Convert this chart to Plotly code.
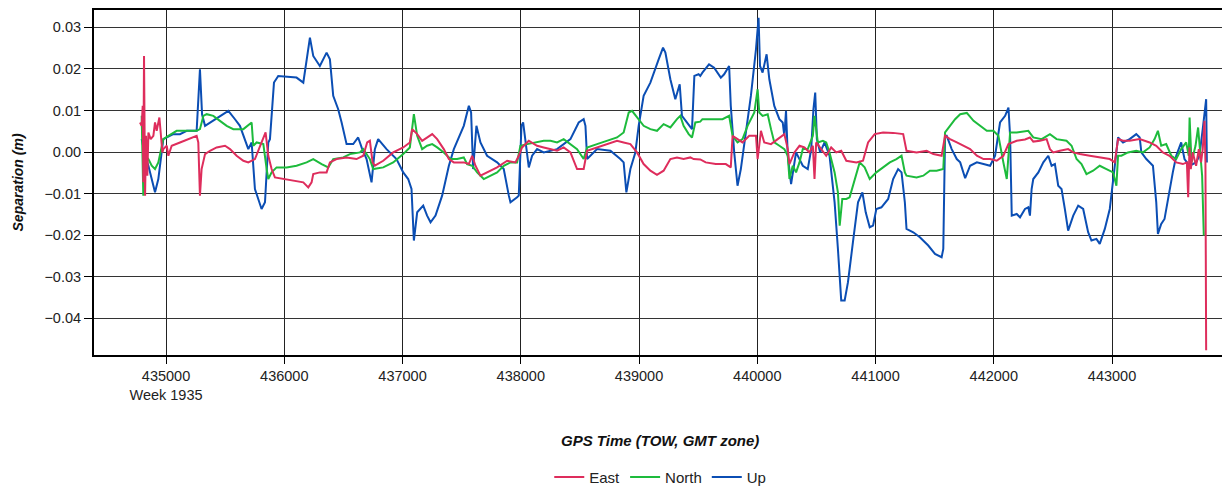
import plotly.graph_objects as go

## GPS TOW (s) and separation (m)

east_tow = [434780, 434794, 434803, 434808, 434814, 434823, 434831, 434842, 434851, 434870,
            434893, 434907, 434921, 434944, 434955, 434969, 434977, 435006, 435020, 435048,
            435118, 435189, 435259, 435273, 435287, 435301, 435330, 435372, 435428, 435499,
            435541, 435597, 435654, 435696, 435752, 435808, 435842, 435865, 435893, 435921,
            435992, 436076, 436161, 436203, 436231, 436245, 436301, 436358, 436386, 436442,
            436527, 436611, 436668, 436701, 436724, 436747, 436766, 436837, 436921, 437006,
            437062, 437082, 437124, 437166, 437208, 437251, 437293, 437349, 437392, 437434,
            437518, 437561, 437589, 437617, 437659, 437715, 437800, 437885, 437955, 437983,
            438011, 438068, 438138, 438194, 438251, 438307, 438363, 438420, 438476, 438532,
            438561, 438645, 438730, 438814, 438870, 438927, 438983, 439039, 439096, 439152,
            439208, 439265, 439321, 439377, 439434, 439462, 439518, 439564, 439649, 439734,
            439776, 439791, 439833, 439875, 439932, 439989, 440003, 440031, 440059, 440116,
            440173, 440229, 440258, 440272, 440314, 440357, 440399, 440441, 440470, 440484,
            440498, 440541, 440583, 440625, 440668, 440710, 440753, 440838, 440894, 440937,
            440993, 441064, 441149, 441234, 441262, 441347, 441432, 441489, 441559, 441588,
            441630, 441688, 441744, 441800, 441857, 441913, 441969, 442025, 442081, 442124,
            442194, 442264, 442306, 442334, 442391, 442447, 442475, 442503, 442559, 442629,
            442672, 442728, 442812, 442896, 442981, 443023, 443051, 443093, 443149, 443234,
            443318, 443374, 443430, 443486, 443543, 443599, 443633, 443644, 443655, 443666,
            443683, 443711, 443734, 443753, 443767, 443782, 443790, 443796]
east_sep = [0.0071, 0.0063, 0.0111, -0.0073, 0.0231, -0.0105, 0.0039, -0.0057, 0.0047, 0.0031,
            0.0039, 0.0071, 0.0051, 0.0083, 0.0047, -0.0001, 0.0007, 0.0015, -0.0009, 0.0015,
            0.0023, 0.0031, 0.0039, 0.0023, -0.0105, -0.0041, -0.0005, 0.0003, 0.0011, 0.0015,
            0.0007, -0.0009, -0.0021, -0.0025, -0.0017, 0.0023, 0.0047, -0.0009, -0.0041, -0.0061,
            -0.0065, -0.0069, -0.0073, -0.0085, -0.0073, -0.0053, -0.0049, -0.0049, -0.0025, -0.0017,
            -0.0013, -0.0017, -0.0009, 0.0023, 0.0027, -0.0025, -0.0033, -0.0021, -0.0001, 0.0011,
            0.0023, 0.0055, 0.0043, 0.0027, 0.0035, 0.0043, 0.0031, 0.0007, -0.0017, -0.0025,
            -0.0025, -0.0029, -0.0009, -0.0033, -0.0057, -0.0049, -0.0037, -0.0021, -0.0025, -0.0009,
            0.0011, 0.0027, 0.0015, 0.0011, 0.0007, 0.0003, 0.0011, -0.0001, -0.0041, -0.0041,
            0.0003, 0.0011, 0.0019, 0.0027, 0.0023, 0.0019, -0.0001, -0.0029, -0.0045, -0.0055,
            -0.0045, -0.0017, -0.0013, -0.0017, -0.0013, -0.0017, -0.0018, -0.0025, -0.0029, -0.0029,
            -0.0037, 0.0039, 0.0031, 0.0023, 0.0039, 0.0039, -0.0017, 0.0051, 0.0023, 0.0019,
            0.0031, 0.0043, 0.0007, -0.0029, -0.0001, 0.0015, 0.0011, -0.0001, 0.0015, -0.0065,
            0.0023, 0.0007, -0.0009, 0.0011, -0.0001, 0.0003, -0.0021, -0.0025, -0.0021, 0.0023,
            0.0043, 0.0047, 0.0046, 0.0043, 0.0003, -0.0001, 0.0003, -0.0005, -0.0009, 0.0039,
            0.0031, 0.0023, 0.0015, 0.0007, -0.0009, -0.0017, -0.0017, -0.0021, -0.0009, 0.0019,
            0.0027, 0.0030, 0.0035, 0.0025, 0.0027, 0.0031, 0.0007, -0.0001, 0.0003, 0.0007,
            -0.0001, -0.0005, -0.0009, -0.0013, -0.0017, -0.0025, 0.0031, 0.0027, 0.0027, 0.0031,
            0.0023, 0.0015, -0.0001, -0.0009, -0.0025, -0.0029, -0.0025, -0.0109, 0.0011, -0.0041,
            -0.0001, -0.0033, 0.0007, -0.0025, 0.0007, 0.0075, -0.0025, -0.0477]

north_tow = [434794, 434808, 434823, 434851, 434879, 434907, 434935, 434963, 434977, 435020,
             435090, 435175, 435259, 435287, 435316, 435344, 435400, 435456, 435513, 435569,
             435654, 435724, 435738, 435766, 435823, 435851, 435865, 435893, 435935, 436020,
             436104, 436189, 436245, 436316, 436372, 436414, 436499, 436555, 436640, 436668,
             436724, 436752, 436837, 436921, 437006, 437062, 437076, 437096, 437124, 437166,
             437208, 437251, 437293, 437349, 437406, 437462, 437518, 437546, 437589, 437631,
             437687, 437744, 437800, 437856, 437913, 437969, 437997, 438054, 438138, 438194,
             438251, 438307, 438363, 438420, 438476, 438532, 438561, 438645, 438730, 438814,
             438870, 438913, 438941, 438983, 439039, 439096, 439152, 439208, 439265, 439321,
             439349, 439377, 439420, 439448, 439476, 439518, 439536, 439621, 439706, 439762,
             439776, 439791, 439833, 439875, 439918, 439975, 440003, 440017, 440045, 440088,
             440116, 440144, 440187, 440229, 440258, 440272, 440300, 440328, 440357, 440385,
             440427, 440470, 440484, 440512, 440555, 440583, 440611, 440654, 440682, 440697,
             440719, 440753, 440781, 440824, 440866, 440908, 440951, 441007, 441064, 441121,
             441177, 441220, 441248, 441262, 441347, 441404, 441460, 441517, 441573, 441588,
             441630, 441673, 441716, 441772, 441829, 441885, 441941, 441997, 442039, 442081,
             442110, 442138, 442194, 442292, 442334, 442405, 442475, 442531, 442615, 442658,
             442700, 442742, 442784, 442840, 442896, 442953, 443009, 443037, 443051, 443079,
             443135, 443205, 443262, 443318, 443360, 443388, 443416, 443458, 443501, 443543,
             443585, 443627, 443649, 443656, 443672, 443706, 443728, 443748, 443762, 443776]
north_sep = [0.0087, -0.0105, -0.0009, -0.0017, -0.0033, -0.0041, -0.0025, 0.0015, 0.0031, 0.0039,
             0.0051, 0.0051, 0.0051, 0.0055, 0.0087, 0.0091, 0.0087, 0.0075, 0.0063, 0.0055,
             0.0055, 0.0071, 0.0015, 0.0023, 0.0019, -0.0041, -0.0065, -0.0049, -0.0037, -0.0037,
             -0.0033, -0.0025, -0.0017, -0.0029, -0.0037, -0.0017, -0.0013, -0.0005, -0.0001, 0.0007,
             -0.0017, -0.0041, -0.0037, -0.0025, -0.0005, 0.0011, 0.0047, 0.0091, 0.0039, 0.0007,
             0.0015, 0.0019, 0.0011, -0.0001, -0.0017, -0.0017, -0.0013, -0.0029, -0.0033, -0.0049,
             -0.0065, -0.0057, -0.0049, -0.0033, -0.0025, -0.0025, 0.0015, 0.0019, 0.0023, 0.0027,
             0.0027, 0.0023, 0.0031, 0.0019, 0.0007, -0.0017, 0.0011, 0.0019, 0.0027, 0.0035,
             0.0047, 0.0095, 0.0099, 0.0083, 0.0063, 0.0055, 0.0051, 0.0067, 0.0059, 0.0079,
             0.0087, 0.0063, 0.0043, 0.0035, 0.0071, 0.0073, 0.0079, 0.0079, 0.0079, 0.0087,
             0.0063, 0.0039, 0.0023, 0.0031, 0.0063, 0.0095, 0.0151, 0.0095, 0.0087, 0.0091,
             0.0055, 0.0023, 0.0015, 0.0007, -0.0009, -0.0065, -0.0033, -0.0049, -0.0025, 0.0007,
             0.0007, 0.0039, 0.0087, 0.0023, 0.0027, 0.0023, -0.0001, -0.0049, -0.0097, -0.0177,
             -0.0113, -0.0113, -0.0109, -0.0065, -0.0025, -0.0037, -0.0065, -0.0049, -0.0037, -0.0025,
             -0.0017, -0.0009, -0.0049, -0.0057, -0.0061, -0.0057, -0.0045, -0.0045, -0.0041, 0.0047,
             0.0063, 0.0079, 0.0091, 0.0094, 0.0075, 0.0063, 0.0051, 0.0051, 0.0039, -0.0025,
             -0.0065, 0.0047, 0.0047, 0.0051, 0.0035, 0.0031, 0.0043, 0.0031, 0.0027, 0.0015,
             -0.0017, -0.0029, -0.0053, -0.0045, -0.0033, -0.0041, -0.0049, -0.0081, -0.0009, -0.0009,
             -0.0001, 0.0003, -0.0001, 0.0011, 0.0031, 0.0051, 0.0015, 0.0019, -0.0009, -0.0017,
             0.0007, 0.0023, -0.0009, 0.0083, -0.0025, 0.0015, 0.0059, -0.0009, -0.0057, -0.0201]

up_tow = [434794, 434823, 434851, 434879, 434907, 434935, 434977, 435062, 435118, 435175,
          435259, 435287, 435305, 435330, 435372, 435450, 435527, 435580, 435625, 435696,
          435724, 435752, 435808, 435837, 435865, 435879, 435913, 435949, 436104, 436161,
          436189, 436217, 436245, 436301, 436358, 436386, 436414, 436456, 436485, 436527,
          436583, 436625, 436654, 436696, 436738, 436766, 436794, 436865, 436949, 437006,
          437048, 437076, 437096, 437124, 437175, 437208, 437237, 437279, 437335, 437392,
          437434, 437490, 437518, 437561, 437580, 437597, 437625, 437659, 437715, 437800,
          437856, 437899, 437913, 437969, 437983, 438006, 438020, 438068, 438096, 438138,
          438194, 438307, 438420, 438490, 438532, 438547, 438561, 438645, 438758, 438842,
          438870, 438893, 438927, 438969, 438997, 439039, 439096, 439166, 439203, 439223,
          439265, 439307, 439344, 439363, 439406, 439448, 439468, 439504, 439518, 439536,
          439592, 439635, 439692, 439720, 439762, 439776, 439805, 439833, 439861, 439904,
          439946, 439989, 440011, 440023, 440045, 440079, 440102, 440144, 440187, 440215,
          440229, 440243, 440258, 440286, 440328, 440385, 440427, 440456, 440475, 440490,
          440504, 440532, 440569, 440611, 440654, 440682, 440710, 440739, 440767, 440809,
          440852, 440889, 440917, 440951, 440979, 441007, 441050, 441107, 441149, 441191,
          441220, 441248, 441262, 441319, 441375, 441446, 441503, 441559, 441573, 441588,
          441602, 441644, 441687, 441716, 441758, 441800, 441857, 441913, 441969, 442011,
          442053, 442096, 442124, 442138, 442146, 442152, 442194, 442222, 442264, 442292,
          442306, 442320, 442334, 442377, 442419, 442461, 442489, 442517, 442545, 442573,
          442601, 442629, 442672, 442714, 442756, 442798, 442826, 442868, 442896, 442939,
          442981, 443009, 443031, 443051, 443093, 443149, 443205, 443234, 443248, 443290,
          443346, 443374, 443388, 443416, 443444, 443472, 443514, 443543, 443585, 443613,
          443655, 443711, 443739, 443767, 443796, 443802]
up_sep = [0.0031, -0.0009, -0.0033, -0.0065, -0.0097, -0.0065, 0.0031, 0.0043, 0.0043, 0.0051,
          0.0051, 0.0199, 0.0090, 0.0063, 0.0071, 0.0085, 0.0099, 0.0080, 0.0063, 0.0007,
          0.0023, -0.0089, -0.0137, -0.0121, 0.0023, 0.0031, 0.0167, 0.0183, 0.0179, 0.0167,
          0.0223, 0.0275, 0.0231, 0.0207, 0.0239, 0.0223, 0.0135, 0.0103, 0.0071, 0.0019,
          0.0019, 0.0035, 0.0011, -0.0017, -0.0073, 0.0007, 0.0031, 0.0007, -0.0017, -0.0049,
          -0.0065, -0.0089, -0.0213, -0.0145, -0.0129, -0.0153, -0.0169, -0.0153, -0.0105, -0.0033,
          0.0007, 0.0047, 0.0063, 0.0111, 0.0095, -0.0041, 0.0063, 0.0023, -0.0009, -0.0025,
          -0.0041, -0.0105, -0.0121, -0.0109, -0.0105, 0.0063, 0.0071, -0.0037, -0.0009, 0.0007,
          -0.0001, 0.0007, 0.0031, 0.0071, 0.0079, 0.0063, -0.0017, 0.0007, 0.0003, -0.0017,
          -0.0025, -0.0097, -0.0041, -0.0001, 0.0063, 0.0135, 0.0167, 0.0223, 0.0251, 0.0239,
          0.0175, 0.0127, 0.0163, 0.0087, 0.0071, 0.0055, 0.0183, 0.0187, 0.0183, 0.0191,
          0.0211, 0.0203, 0.0179, 0.0187, 0.0207, 0.0111, -0.0001, -0.0081, -0.0041, 0.0055,
          0.0135, 0.0247, 0.0323, 0.0207, 0.0191, 0.0235, 0.0175, 0.0111, 0.0079, 0.0071,
          0.0039, 0.0099, -0.0009, -0.0077, -0.0001, -0.0033, -0.0041, 0.0007, 0.0103, 0.0143,
          0.0031, -0.0001, 0.0023, -0.0009, -0.0121, -0.0233, -0.0357, -0.0357, -0.0313, -0.0217,
          -0.0121, -0.0097, -0.0145, -0.0181, -0.0177, -0.0137, -0.0133, -0.0113, -0.0065, -0.0041,
          -0.0049, -0.0121, -0.0185, -0.0193, -0.0205, -0.0225, -0.0245, -0.0253, -0.0233, 0.0039,
          0.0039, 0.0007, -0.0017, -0.0025, -0.0063, -0.0033, -0.0025, -0.0029, -0.0033, -0.0009,
          0.0071, 0.0087, 0.0107, 0.0039, -0.0105, -0.0153, -0.0149, -0.0157, -0.0137, -0.0133,
          -0.0153, -0.0089, -0.0065, -0.0049, -0.0025, -0.0009, -0.0033, -0.0029, -0.0081, -0.0089,
          -0.0137, -0.0189, -0.0153, -0.0129, -0.0137, -0.0193, -0.0213, -0.0209, -0.0221, -0.0185,
          -0.0137, -0.0073, -0.0025, 0.0035, 0.0023, 0.0031, 0.0043, 0.0035, -0.0001, -0.0017,
          -0.0033, -0.0121, -0.0197, -0.0173, -0.0161, -0.0113, -0.0049, -0.0009, 0.0023, -0.0017,
          -0.0033, -0.0025, -0.0009, 0.0055, 0.0127, -0.0025]

x_ticks = [435000, 436000, 437000, 438000, 439000, 440000, 441000, 442000, 443000]
x_labels = ["435000<br>Week 1935", "436000", "437000", "438000", "439000",
            "440000", "441000", "442000", "443000"]
y_ticks = [-0.04, -0.03, -0.02, -0.01, 0.0, 0.01, 0.02, 0.03]

FONT = "Liberation Sans, Arial, sans-serif"

fig = go.Figure()

## Up first so East sits on top, legend reversed back to East / North / Up
fig.add_trace(go.Scatter(x=up_tow, y=up_sep, mode="lines", name="Up",
                         line=dict(color="#0B4EB4", width=2)))
fig.add_trace(go.Scatter(x=north_tow, y=north_sep, mode="lines", name="North",
                         line=dict(color="#1DBB3C", width=2)))
fig.add_trace(go.Scatter(x=east_tow, y=east_sep, mode="lines", name="East",
                         line=dict(color="#DE2D5C", width=2)))

fig.update_layout(
    width=1222,
    height=487,
    margin=dict(l=94, r=0, t=10, b=132, autoexpand=False),
    plot_bgcolor="white",
    paper_bgcolor="white",
    font=dict(family=FONT, size=14.5, color="#222222"),
    legend=dict(orientation="h", traceorder="reversed", x=0.502, xanchor="center",
                y=-0.354, yanchor="middle", font=dict(size=15), itemwidth=30),
    xaxis=dict(range=[434391, 443930], tickvals=x_ticks, ticktext=x_labels,
               showgrid=True, gridcolor="#222222", gridwidth=1, zeroline=False,
               showline=True, linecolor="black", linewidth=2, mirror=True,
               ticks="outside", ticklen=7, tickcolor="black"),
    yaxis=dict(range=[-0.04883, 0.03416], tickvals=y_ticks, tickformat=".2f",
               showgrid=True, gridcolor="#333333", gridwidth=1, zeroline=False,
               showline=True, linecolor="black", linewidth=2,
               ticks="outside", ticklen=8, tickcolor="black"),
    annotations=[
        dict(text="<b><i>Separation (m)</i></b>", textangle=-90, xref="paper", yref="paper",
             x=-0.0674, y=0.5, xanchor="center", yanchor="middle", showarrow=False,
             font=dict(size=14, color="#111111")),
        dict(text="<b><i>GPS Time (TOW, GMT zone)</i></b>", xref="paper", yref="paper",
             x=0.502, y=-0.249, xanchor="center", yanchor="middle", showarrow=False,
             font=dict(size=15, color="#111111")),
    ],
)

## drop the default 8px body margin so the figure sits at the window's corner
fig.write_html("out.html", config={"displayModeBar": False},
               post_script="document.body.style.margin='0';document.body.style.overflow='hidden';")
